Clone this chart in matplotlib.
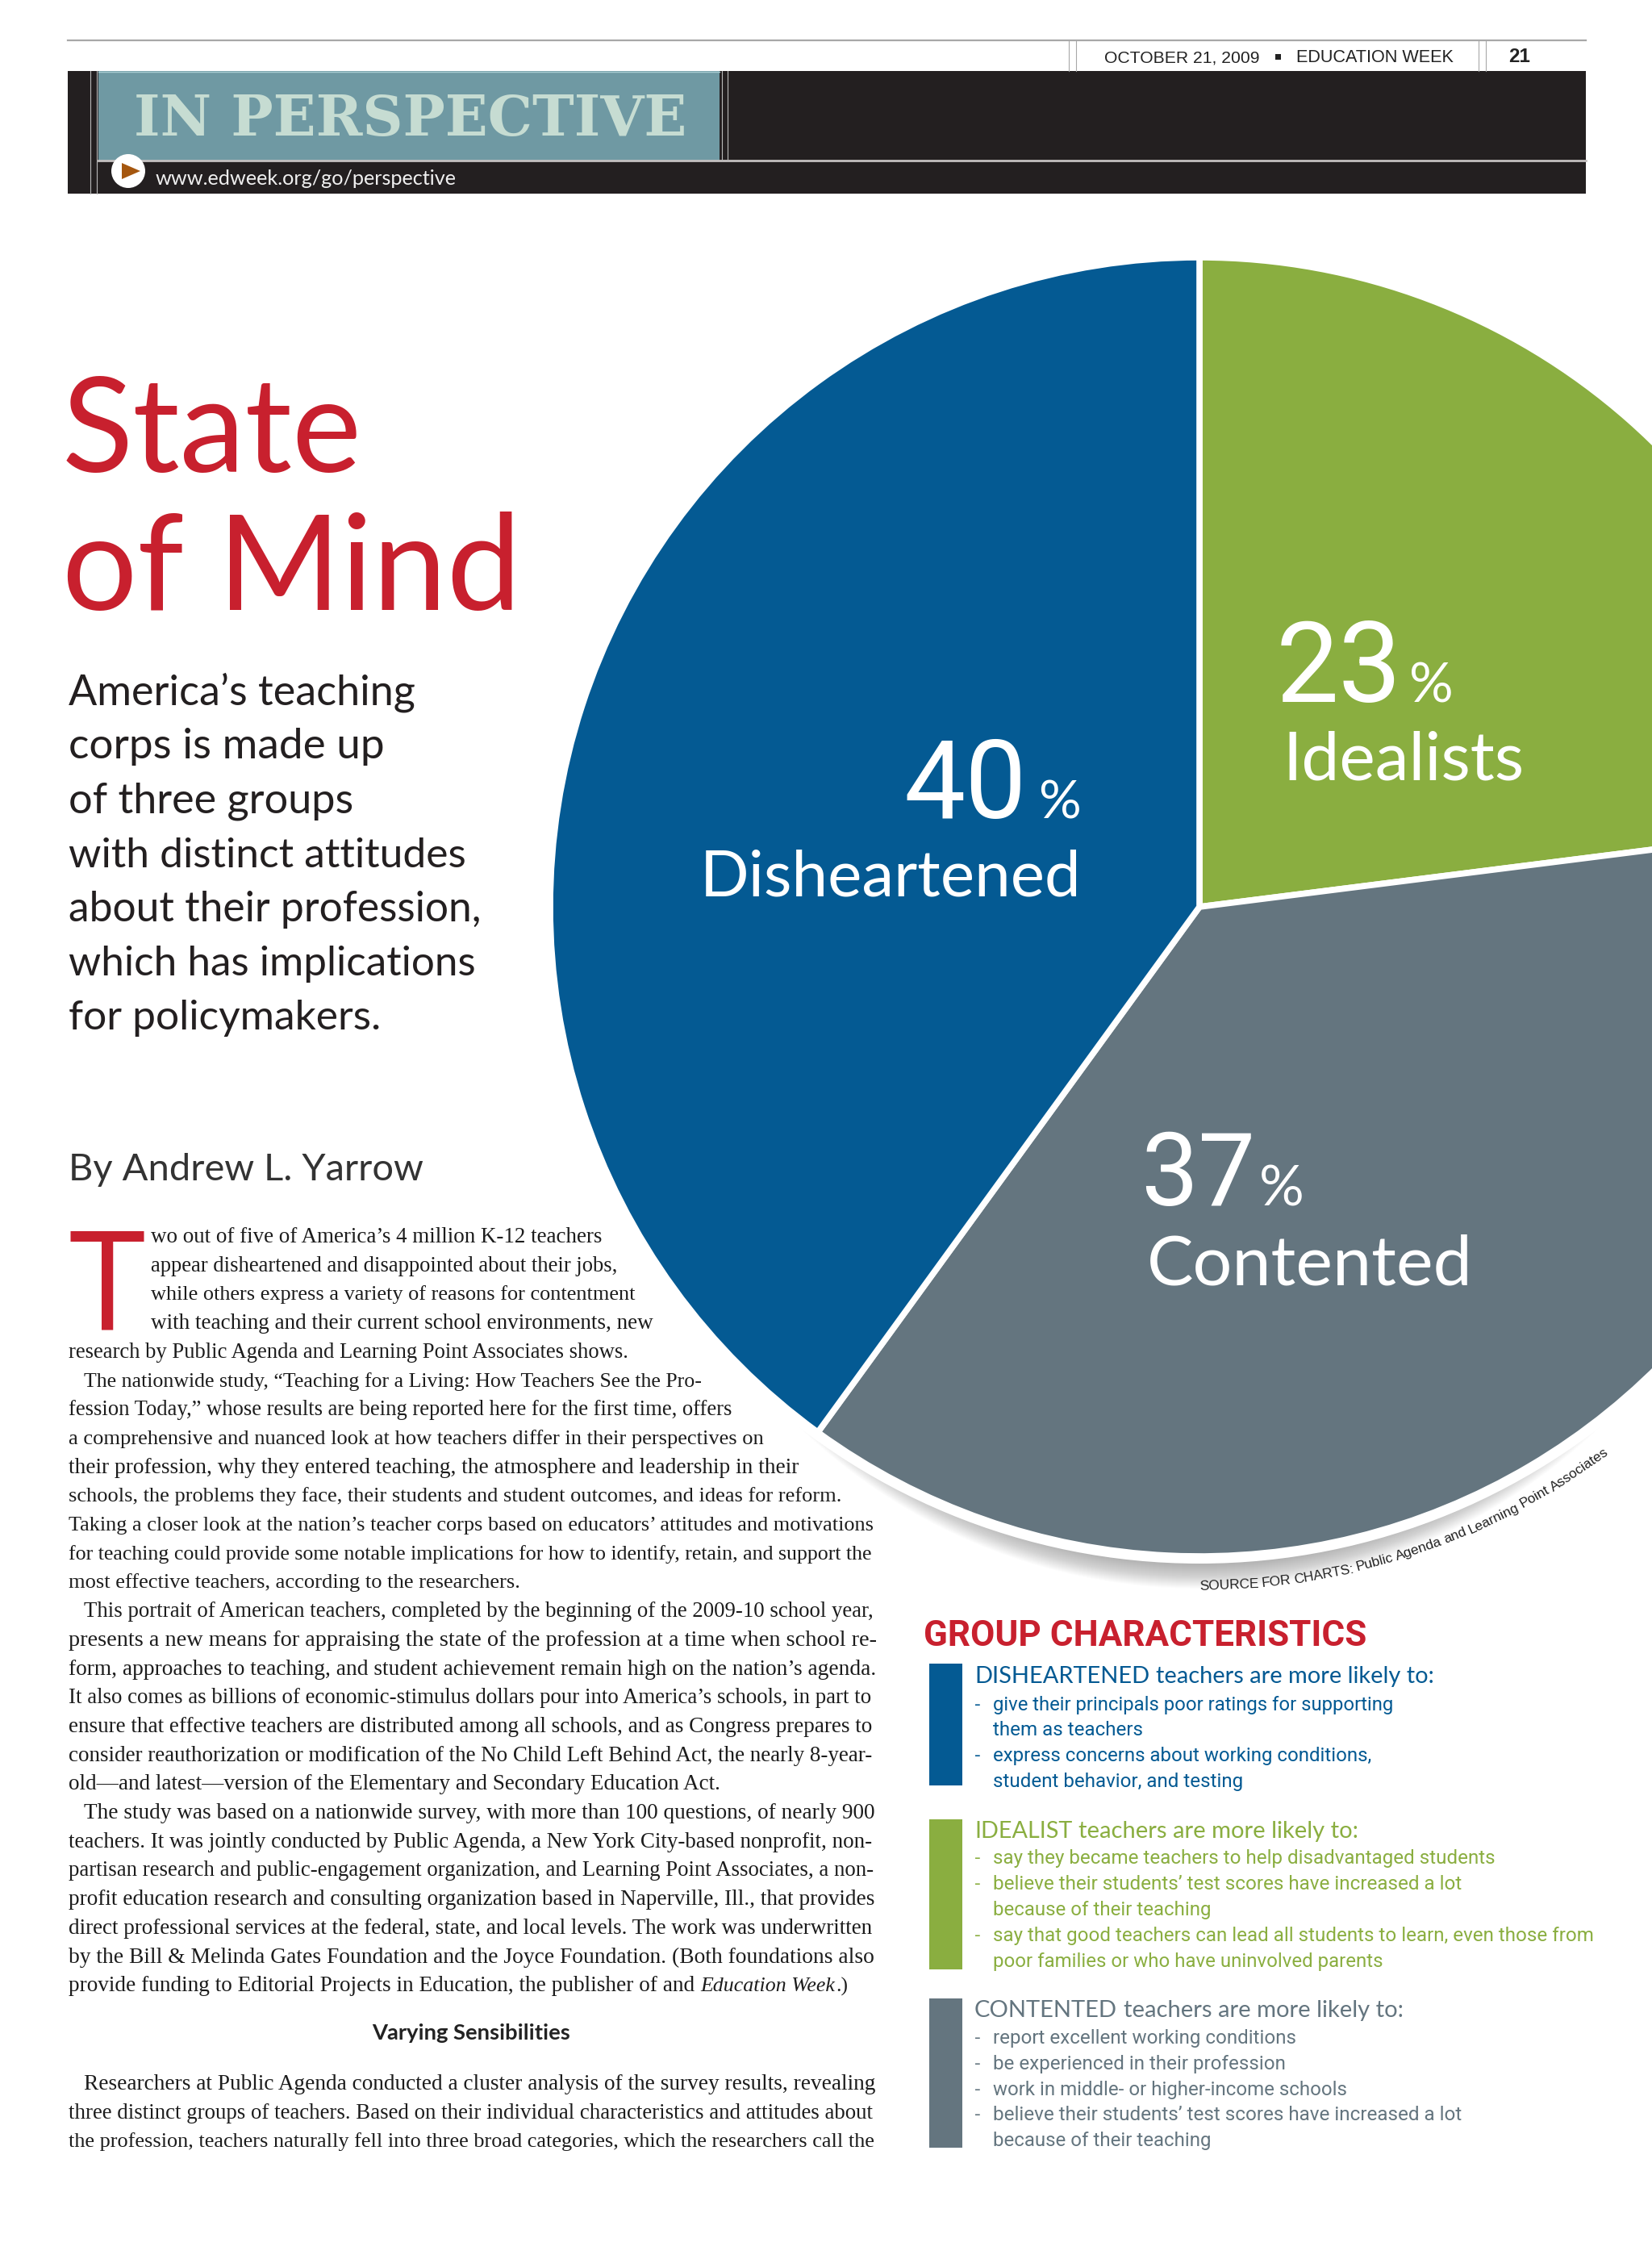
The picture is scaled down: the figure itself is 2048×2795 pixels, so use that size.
import math
import matplotlib
matplotlib.use("Agg")
import matplotlib.pyplot as plt
from matplotlib.patches import Rectangle, Circle, Polygon

W, H = 2048, 2795
HUMAN = "Lato"
SANS = "Open Sans"
LIGHT = "Roboto"
TIGHT = "Roboto"
SERIF = "Liberation Serif"

# ---------- data ----------
groups = ["Idealists", "Contented", "Disheartened"]
shares = [23, 37, 40]
blue, green, slate = "#045a93", "#8aae40", "#64757f"
red = "#c8202e"
ink = "#231f20"
group_colors = [green, slate, blue]

sub_lines = ["America\u2019s teaching", "corps is made up", "of three groups",
             "with distinct attitudes", "about their profession,",
             "which has implications", "for policymakers."]
sub_ends = [515, 476, 438, 577, 597, 590, 472]

body_lines = [
 "wo out of five of America\u2019s 4 million K-12 teachers",
 "appear disheartened and disappointed about their jobs,",
 "while others express a variety of reasons for contentment",
 "with teaching and their current school environments, new",
 "research by Public Agenda and Learning Point Associates shows.",
 "The nationwide study, \u201cTeaching for a Living: How Teachers See the Pro-",
 "fession Today,\u201d whose results are being reported here for the first time, offers",
 "a comprehensive and nuanced look at how teachers differ in their perspectives on",
 "their profession, why they entered teaching, the atmosphere and leadership in their",
 "schools, the problems they face, their students and student outcomes, and ideas for reform.",
 "Taking a closer look at the nation\u2019s teacher corps based on educators\u2019 attitudes and motivations",
 "for teaching could provide some notable implications for how to identify, retain, and support the",
 "most effective teachers, according to the researchers.",
 "This portrait of American teachers, completed by the beginning of the 2009-10 school year,",
 "presents a new means for appraising the state of the profession at a time when school re-",
 "form, approaches to teaching, and student achievement remain high on the nation\u2019s agenda.",
 "It also comes as billions of economic-stimulus dollars pour into America\u2019s schools, in part to",
 "ensure that effective teachers are distributed among all schools, and as Congress prepares to",
 "consider reauthorization or modification of the No Child Left Behind Act, the nearly 8-year-",
 "old\u2014and latest\u2014version of the Elementary and Secondary Education Act.",
 "The study was based on a nationwide survey, with more than 100 questions, of nearly 900",
 "teachers. It was jointly conducted by Public Agenda, a New York City-based nonprofit, non-",
 "partisan research and public-engagement organization, and Learning Point Associates, a non-",
 "profit education research and consulting organization based in Naperville, Ill., that provides",
 "direct professional services at the federal, state, and local levels. The work was underwritten",
 "by the Bill & Melinda Gates Foundation and the Joyce Foundation. (Both foundations also",
]
body_starts = [187, 187, 187, 187, 85, 104, 85, 85, 85, 85, 85, 85, 85,
               104, 85, 85, 85, 85, 85, 85, 104, 85, 85, 85, 85, 85]
body_ends = [748, 765, 785, 811, 779, 870, 907, 947, 987, 1040, 1083, 1083, 645,
             1083, 1083, 1083, 1083, 1083, 1083, 895, 1083, 1083, 1083, 1083, 1083, 1083]
tail_lines = [
 "Researchers at Public Agenda conducted a cluster analysis of the survey results, revealing",
 "three distinct groups of teachers. Based on their individual characteristics and attitudes about",
 "the profession, teachers naturally fell into three broad categories, which the researchers call the",
]
tail_starts = [104, 85, 85]

char_heads = [("DISHEARTENED", "teachers are more likely to:"),
              ("IDEALIST", "teachers are more likely to:"),
              ("CONTENTED", "teachers are more likely to:")]
char_colors = [blue, green, slate]
char_lines = [
 [("-", "give their principals poor ratings for supporting"),
  ("", "them as teachers"),
  ("-", "express concerns about working conditions,"),
  ("", "student behavior, and testing")],
 [("-", "say they became teachers to help disadvantaged students"),
  ("-", "believe their students\u2019 test scores have increased a lot"),
  ("", "because of their teaching"),
  ("-", "say that good teachers can lead all students to learn, even those from"),
  ("", "poor families or who have uninvolved parents")],
 [("-", "report excellent working conditions"),
  ("-", "be experienced in their profession"),
  ("-", "work in middle- or higher-income schools"),
  ("-", "believe their students\u2019 test scores have increased a lot"),
  ("", "because of their teaching")],
]
char_ends = [[1726, 1416, 1700, 1540], [1851, 1811, 1500, 1974, 1714], [1605, 1593, 1668, 1811, 1500]]
char_bases = [[2120, 2151, 2183, 2215], [2310, 2342, 2374, 2406, 2438], [2533, 2565, 2597, 2628, 2660]]
source_words = "SOURCE FOR CHARTS: Public Agenda and Learning Point Associates".split()

# ---------- canvas ----------
fig = plt.figure(figsize=(W / 100 + 1e-6, H / 100 + 1e-6), dpi=100, facecolor="white")
ax = fig.add_axes([0, 0, 1, 1])
renderer = fig.canvas.get_renderer()


def Y(p):
    return H - p


def fit(x, base, s, x2, family=SANS, color=ink, weight="normal", style="normal", size=30.0, zorder=5):
    t = ax.text(x, Y(base), s, family=family, color=color, weight=weight, style=style,
                fontsize=size, ha="left", va="baseline", zorder=zorder)
    w = t.get_window_extent(renderer).width
    t.set_fontsize(size * (x2 - x) / w)
    return t


def rect(x0, y0, x1, y1, color, zorder=2):
    ax.add_patch(Rectangle((x0, Y(y1)), x1 - x0, y1 - y0, facecolor=color, edgecolor="none", zorder=zorder))


# ---------- pie ----------
cx, cy, R = 1487, 1124, 805
for i in range(30):
    ax.add_patch(Circle((cx, Y(cy + 130)), 715 - i, facecolor="#555555", edgecolor="none",
                        alpha=0.015, zorder=0.5))
ax.add_patch(Circle((cx, Y(cy)), R + 9, facecolor="white", edgecolor="none", zorder=0.8))
ax.pie(shares, colors=group_colors, startangle=90, counterclock=False, center=(cx, Y(cy)),
       radius=R, frame=True,
       wedgeprops=dict(edgecolor="white", linewidth=5.5, joinstyle="miter", zorder=1))
ax.set_xlim(0, W)
ax.set_ylim(0, H)
ax.set_aspect("auto")
ax.axis("off")

# ---------- masthead ----------
ax.plot([84, 1966], [Y(50), Y(50)], color="#a8a8a8", lw=1.6, zorder=2)
rect(84, 88, 1966, 240, ink)
rect(122, 88, 892, 199, "#6f99a3", zorder=3)
ax.plot([122, 1966], [Y(199), Y(199)], color="#c4c0c0", lw=2, zorder=4)
ax.plot([122, 892], [Y(89), Y(89)], color="#a9cdd3", lw=1, zorder=4)
for xv in [112, 119.5]:
    ax.plot([xv, xv], [Y(88), Y(240)], color="#b8b8b8", lw=0.8, zorder=4)
for xv in [895, 902]:
    ax.plot([xv, xv], [Y(88), Y(199)], color="#b8b8b8", lw=0.8, zorder=4)
for xv in [1325, 1334, 1833, 1842]:
    ax.plot([xv, xv], [Y(50), Y(88)], color="#a8a8a8", lw=0.8, zorder=4)
fit(1369, 77, "OCTOBER 21, 2009", 1561, family="Liberation Sans", color="#222222")
rect(1581, 67, 1588, 74, "#222222")
fit(1607, 77, "EDUCATION WEEK", 1802, family="Liberation Sans", color="#222222")
fit(1870, 77, "21", 1897, family="Liberation Sans", color="#222222", weight="bold")
fit(166, 168, "IN PERSPECTIVE", 850, family="DejaVu Serif", color="#c6dcd2", weight="bold", zorder=5)
ax.add_patch(Circle((159, Y(212)), 21, facecolor="white", edgecolor="none", zorder=5))
ax.add_patch(Polygon([(151, Y(202)), (151, Y(222)), (174, Y(212))], closed=True,
                     facecolor="#a5570f", edgecolor="none", zorder=6))
fit(193, 229, "www.edweek.org/go/perspective", 567, family=HUMAN, color="#f0f0f0")

# ---------- title and deck ----------
fit(77, 585, "State", 448, family=HUMAN, color=red)
fit(77, 756, "of Mind", 645, family=HUMAN, color=red)
for i, (line, xe) in enumerate(zip(sub_lines, sub_ends)):
    fit(85, 873 + 67.2 * i, line, xe, family=HUMAN, color=ink)
fit(85, 1463, "By Andrew L. Yarrow", 524, family=HUMAN, color="#333333")
fit(85, 1647, "T", 179, family=SANS, color=red)

# ---------- body ----------
STEP = 35.7
B0 = 1540
for i, (line, xs, xe) in enumerate(zip(body_lines, body_starts, body_ends)):
    fit(xs, B0 + STEP * i, line, xe, family=SERIF, color="#1c1c1c")
base = B0 + STEP * 26
fit(85, base, "provide funding to Editorial Projects in Education, the publisher of and", 860,
    family=SERIF, color="#1c1c1c")
fit(868, base, "Education Week", 1035, family=SERIF, color="#1c1c1c", style="italic")
fit(1036, base, ".)", 1051, family=SERIF, color="#1c1c1c")
fit(461, 2528, "Varying Sensibilities", 706, family=HUMAN, color="#222222", weight="bold")
for i, (line, xs) in enumerate(zip(tail_lines, tail_starts)):
    fit(xs, 2590 + STEP * i, line, 1083, family=SERIF, color="#1c1c1c")

# ---------- pie labels ----------
label_layout = {
    "Idealists": (1582, 1738, 870, 1747, 1802, 1590, 1889, 966),
    "Contented": (1414, 1556, 1494, 1561, 1617, 1422, 1825, 1592),
    "Disheartened": (1120, 1272, 1014, 1287, 1340, 868, 1340, 1110),
}
for g, v in zip(groups, shares):
    x0, x1, b, px0, px1, lx0, lx1, lb = label_layout[g]
    fit(x0, b, str(v), x1, family=TIGHT, color="white")
    fit(px0, b, "%", px1, family=HUMAN, color="white")
    fit(lx0, lb, g, lx1, family=HUMAN, color="white")

# ---------- curved source line ----------
rs = 846
fs = 13.0
src_font = "Liberation Sans"
probe = [ax.text(0, 0, w, family=src_font, fontsize=fs) for w in source_words]
widths = [p.get_window_extent(renderer).width for p in probe]
for p in probe:
    p.remove()
space = fs * 100 / 72 * 0.24
total = sum(widths) + space * (len(widths) - 1)
k = 544 / total
phi = math.radians(0.0)
for w, wd in zip(source_words, widths):
    mid = phi + wd * k / 2 / rs
    ax.text(cx + rs * math.sin(mid), Y(cy + rs * math.cos(mid)), w, family=src_font,
            fontsize=fs * k, color="#222222", rotation=math.degrees(mid),
            rotation_mode="anchor", ha="center", va="baseline", zorder=5)
    phi += (wd + space) * k / rs

# ---------- group characteristics ----------
fit(1145, 2040, "GROUP CHARACTERISTICS", 1694, family=TIGHT, color=red, weight="bold")
bars = [(2062, 2213), (2255, 2441), (2477, 2662)]
head_base = [2086, 2278, 2500]
head_mid = [(1425, 1433, 1778), (1329, 1337, 1683), (1385, 1393, 1739)]
for j, ((cap, rest), col) in enumerate(zip(char_heads, char_colors)):
    rect(1152, bars[j][0], 1193, bars[j][1], col)
    m0, m1, m2 = head_mid[j]
    fit(1208, head_base[j], cap, m0, family=HUMAN, color=col)
    fit(m1, head_base[j], rest, m2, family=HUMAN, color=col)
    for (dash, line), xe, b in zip(char_lines[j], char_ends[j], char_bases[j]):
        if dash:
            ax.text(1208, Y(b), dash, family=SANS, fontsize=17, color=col, ha="left", va="baseline", zorder=5)
        fit(1231, b, line, xe, family=LIGHT, color=col)

fig.savefig("out.png", dpi=100, facecolor="white")
